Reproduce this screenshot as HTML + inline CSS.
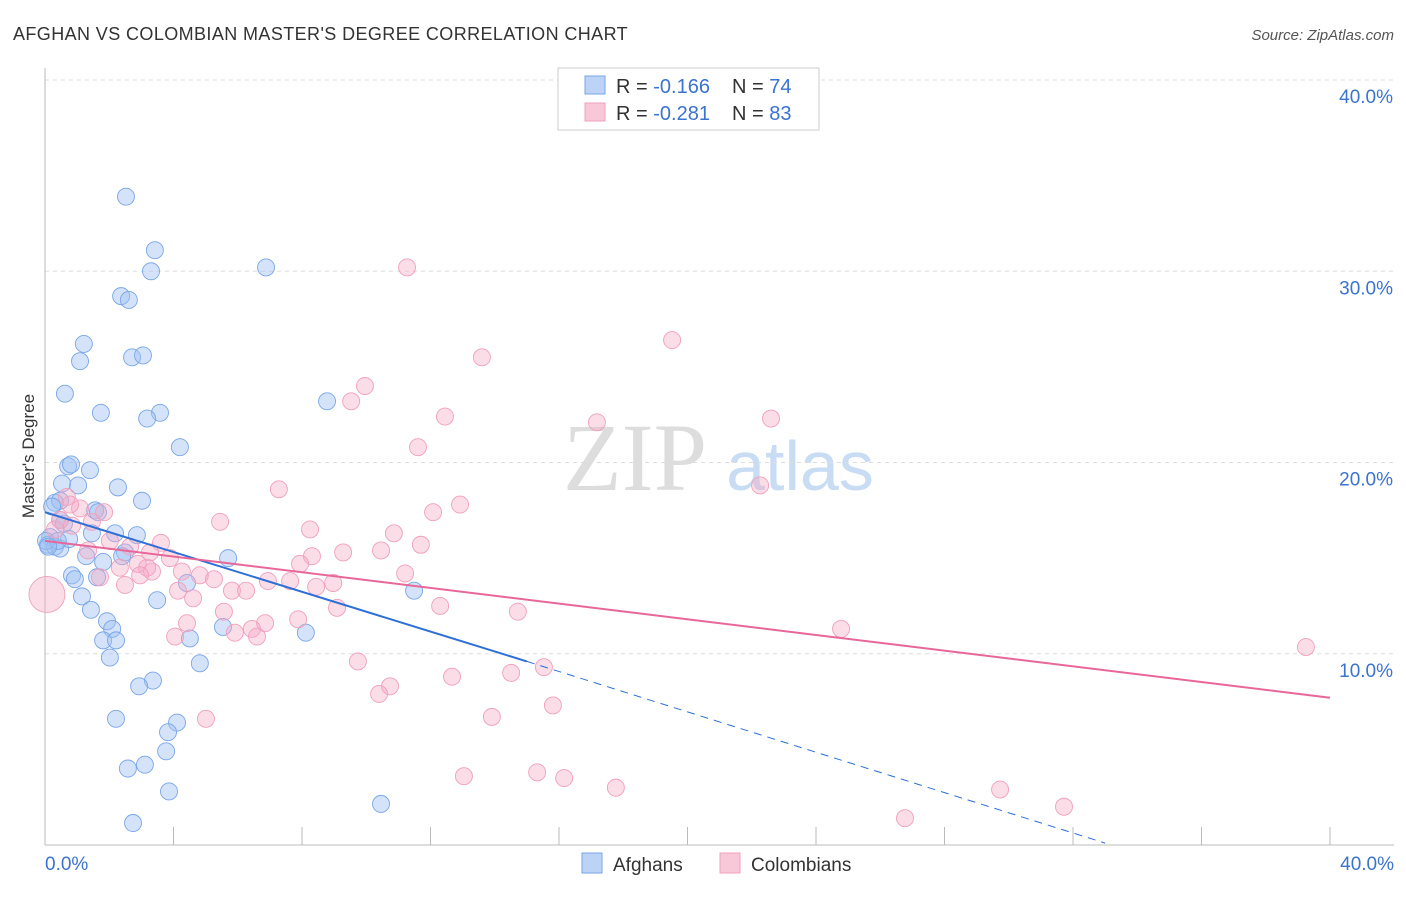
<!DOCTYPE html>
<html><head><meta charset="utf-8">
<style>
html,body{margin:0;padding:0;background:#fff;}
body{width:1406px;height:892px;overflow:hidden;font-family:"Liberation Sans",sans-serif;}
</style></head>
<body>
<svg id="chart" width="1406" height="892" xmlns="http://www.w3.org/2000/svg">
<text x="13" y="40" font-size="18" letter-spacing="0.4" fill="#333">AFGHAN VS COLOMBIAN MASTER'S DEGREE CORRELATION CHART</text>
<text x="1394" y="40" font-size="15" fill="#555" font-style="italic" text-anchor="end">Source: ZipAtlas.com</text>
<text x="34" y="456" font-size="17" fill="#333" transform="rotate(-90 34 456)" text-anchor="middle">Master's Degree</text>
<g>
<text x="635" y="490" font-size="96" fill="#ddd" font-family="Liberation Serif,serif" text-anchor="middle">ZIP</text>
<text x="800" y="490" font-size="70" fill="#c8dcf4" text-anchor="middle">atlas</text>
</g>
<g id="grid"></g>
<g id="marks"></g>
<g>
<rect x="558" y="68" width="261" height="62" fill="#fff" stroke="#ccc"/>
<rect x="585" y="76" width="20" height="18" fill="#bcd3f5" stroke="#7aa6e8"/>
<rect x="585" y="103" width="20" height="18" fill="#f8c8d8" stroke="#f0a0bc"/>
<text x="616" y="93" font-size="20" fill="#333">R = <tspan fill="#3b73d0">-0.166</tspan></text>
<text x="732" y="93" font-size="20" fill="#333">N = <tspan fill="#3b73d0">74</tspan></text>
<text x="616" y="120" font-size="20" fill="#333">R = <tspan fill="#3b73d0">-0.281</tspan></text>
<text x="732" y="120" font-size="20" fill="#333">N = <tspan fill="#3b73d0">83</tspan></text>
</g>
<g>
<rect x="582" y="853" width="20" height="20" fill="#bcd3f5" stroke="#7aa6e8"/>
<text x="613" y="871" font-size="19" fill="#333">Afghans</text>
<rect x="720" y="853" width="20" height="20" fill="#f8c8d8" stroke="#f0a0bc"/>
<text x="751" y="871" font-size="19" fill="#333">Colombians</text>
</g>
</svg>
<script>
const yTicks=[10,20,30,40];
const yTickLabels=["10.0%","20.0%","30.0%","40.0%"];
const xTickLabels=["0.0%","40.0%"];
const afghanX=[2.52,3.42,3.30,6.88,2.37,2.61,1.21,1.09,2.71,3.05,0.62,8.78,1.74,3.58,3.18,4.20,0.72,0.81,1.40,0.53,1.03,2.27,3.02,0.31,0.47,0.22,1.56,1.65,0.59,0.47,2.86,2.18,1.46,0.16,0.09,0.31,0.47,0.75,2.49,2.40,1.28,1.81,5.70,0.84,0.93,1.62,4.42,11.49,1.15,3.49,1.43,1.93,2.09,5.54,8.12,4.51,1.81,2.21,2.02,4.82,3.36,2.93,2.21,4.11,3.83,3.77,3.11,2.58,3.86,10.46,2.74,0.03,0.40,0.1];
const afghanY=[33.9,31.1,30.0,30.2,28.7,28.5,26.2,25.3,25.5,25.6,23.6,23.2,22.6,22.6,22.3,20.8,19.8,19.9,19.6,18.9,18.8,18.7,18.0,17.9,18.0,17.7,17.5,17.4,16.8,17.0,16.2,16.3,16.3,16.1,15.7,15.6,15.5,16.0,15.3,15.1,15.1,14.8,15.0,14.1,13.9,14.0,13.7,13.3,13.0,12.8,12.3,11.7,11.3,11.4,11.1,10.8,10.7,10.7,9.8,9.5,8.6,8.3,6.6,6.4,5.9,4.9,4.2,4.0,2.8,2.15,1.15,15.9,15.9,15.6];
const colombX=[11.27,19.52,13.60,9.96,9.53,12.45,17.18,22.60,11.61,7.28,12.92,12.08,22.26,0.68,1.09,1.84,1.46,5.45,8.25,10.86,11.70,9.28,10.46,8.31,3.61,2.65,3.89,7.94,2.89,3.33,3.18,11.21,4.26,4.82,5.26,6.94,7.63,1.71,2.49,8.44,8.97,4.61,5.82,6.26,12.30,9.09,14.72,5.57,7.88,6.85,4.42,6.44,5.91,4.05,6.60,24.78,9.74,15.53,14.51,12.67,10.74,10.40,15.81,5.01,13.91,39.25,13.04,15.32,16.16,17.77,29.73,31.72,26.77,0.47,0.84,2.02,1.34,0.78,0.31,3.27,2.33,2.96,4.14,0.06];
const colombY=[30.2,26.4,25.5,24.0,23.2,22.4,22.1,22.3,20.8,18.6,17.8,17.4,18.8,18.2,17.6,17.4,16.9,16.9,16.5,16.3,15.7,15.3,15.4,15.1,15.8,15.6,15.0,14.7,14.7,14.3,14.5,14.2,14.3,14.1,13.9,13.8,13.8,14.0,13.6,13.5,13.7,12.9,13.3,13.3,12.5,12.4,12.2,12.2,11.8,11.6,11.6,11.3,11.1,10.9,10.9,11.3,9.6,9.3,9.0,8.8,8.3,7.9,7.3,6.6,6.7,10.35,3.6,3.8,3.5,3.0,2.9,2.0,1.4,17.0,16.7,15.9,15.4,17.8,16.5,15.3,14.5,14.1,13.3,13.1];
const colombR=[];for(let i=0;i<colombX.length;i++)colombR.push(i===colombX.length-1?18:8.5);
const afghanTrend=[17.4,9.6,0.1];
const afghanTrendX=[0,15,33];
const colombTrend=[15.9,7.7];
const colombTrendX=[0,40];
const NS="http://www.w3.org/2000/svg";
const X0=45,X1=1330,Y0=845,Y40=80;
function sx(v){return X0+(X1-X0)*v/40;}
function sy(v){return Y0-(Y0-Y40)*v/40;}
function mk(tag,attrs,parent){const e=document.createElementNS(NS,tag);for(const k in attrs)e.setAttribute(k,attrs[k]);parent.appendChild(e);return e;}
const grid=document.getElementById('grid');
const marks=document.getElementById('marks');
yTicks.forEach((t,i)=>{
  const l=mk('line',{x1:X0,x2:1394,y1:sy(t),y2:sy(t),stroke:'#ddd','stroke-dasharray':'4,4'},grid);
  
  
  const tx=mk('text',{x:1393,y:sy(t)+23,'font-size':19,fill:'#3b73d0','text-anchor':'end'},grid);
  tx.textContent=yTickLabels[i];
  
  
});
const ax=mk('line',{x1:X0,x2:X0,y1:68,y2:Y0,stroke:'#bbb'},grid);


const bx=mk('line',{x1:X0,x2:1394,y1:Y0,y2:Y0,stroke:'#bbb'},grid);


for(let i=0;i<=10;i++){
  const t=mk('line',{x1:sx(i*4),x2:sx(i*4),y1:Y0,y2:Y0-18,stroke:'#bbb'},grid);
  
  
}
[[0,'start',X0],[1,'end',1394]].forEach(([i,a,x])=>{
  const tx=mk('text',{x:x,y:870,'font-size':19,fill:'#3b73d0','text-anchor':a},grid);
  tx.textContent=xTickLabels[i];
  
  
});
afghanX.forEach((v,i)=>{
  const c=mk('circle',{cx:sx(v),cy:sy(afghanY[i]),r:8.5,fill:'rgba(160,192,242,0.45)',stroke:'#7aa6e8','stroke-width':0.9},marks);
  
  
});
colombX.forEach((v,i)=>{
  const c=mk('circle',{cx:sx(v),cy:sy(colombY[i]),r:colombR[i],fill:'rgba(245,170,198,0.4)',stroke:'#f0a0bc','stroke-width':0.9},marks);
  
  
});
const bl=mk('line',{x1:sx(afghanTrendX[0]),y1:sy(afghanTrend[0]),x2:sx(afghanTrendX[1]),y2:sy(afghanTrend[1]),stroke:'#2d6fd6','stroke-width':2},marks);


const bd=mk('line',{x1:sx(afghanTrendX[1]),y1:sy(afghanTrend[1]),x2:sx(afghanTrendX[2]),y2:sy(afghanTrend[2]),stroke:'#2d6fd6','stroke-width':1,'stroke-dasharray':'8,6'},marks);


const pl=mk('line',{x1:sx(colombTrendX[0]),y1:sy(colombTrend[0]),x2:sx(colombTrendX[1]),y2:sy(colombTrend[1]),stroke:'#e8679a','stroke-width':2},marks);


</script>
</body></html>
